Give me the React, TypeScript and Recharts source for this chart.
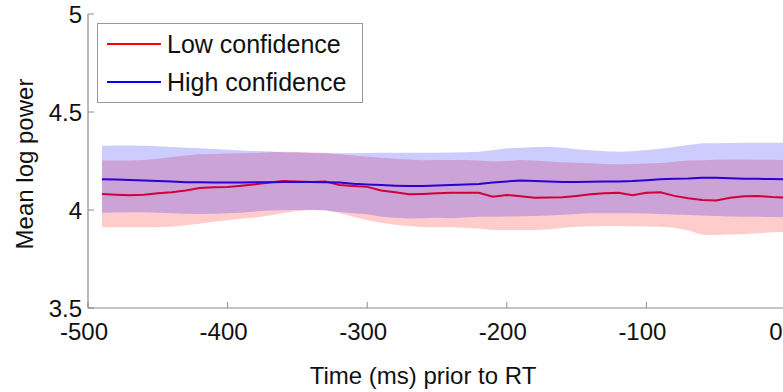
import React from "react";
import { ComposedChart, Line, Area, XAxis, YAxis, Label } from "recharts";

const times = [-490,-480,-470,-460,-450,-440,-430,-420,-410,-400,-390,-380,-370,-360,-350,-340,-330,-320,-310,-300,-290,-280,-270,-260,-250,-240,-230,-220,-210,-200,-190,-180,-170,-160,-150,-140,-130,-120,-110,-100,-90,-80,-70,-60,-50,-40,-30,-20,-10,0];

const lowMean = [4.082,4.078,4.075,4.078,4.085,4.090,4.100,4.112,4.116,4.117,4.124,4.131,4.140,4.148,4.146,4.143,4.146,4.128,4.123,4.118,4.100,4.090,4.080,4.082,4.085,4.088,4.088,4.088,4.068,4.077,4.070,4.063,4.064,4.065,4.072,4.080,4.085,4.088,4.075,4.088,4.090,4.072,4.060,4.051,4.049,4.062,4.070,4.071,4.066,4.063];
const lowUpper = [4.252,4.252,4.253,4.255,4.262,4.270,4.278,4.284,4.286,4.288,4.289,4.291,4.295,4.297,4.296,4.294,4.292,4.284,4.278,4.272,4.266,4.261,4.258,4.254,4.255,4.255,4.255,4.252,4.247,4.250,4.255,4.252,4.248,4.244,4.241,4.238,4.235,4.233,4.235,4.237,4.240,4.246,4.252,4.254,4.256,4.258,4.258,4.257,4.256,4.255];
const lowLower = [3.912,3.912,3.912,3.912,3.912,3.915,3.922,3.930,3.940,3.948,3.955,3.962,3.972,3.985,3.995,4.000,4.000,3.985,3.965,3.948,3.935,3.925,3.918,3.912,3.912,3.912,3.910,3.905,3.898,3.898,3.898,3.898,3.900,3.910,3.915,3.917,3.918,3.918,3.917,3.916,3.915,3.910,3.895,3.874,3.872,3.875,3.878,3.882,3.886,3.890];

const highMean = [4.157,4.155,4.153,4.151,4.148,4.145,4.142,4.141,4.140,4.140,4.140,4.141,4.142,4.143,4.143,4.143,4.142,4.140,4.134,4.130,4.127,4.124,4.122,4.122,4.125,4.127,4.130,4.133,4.140,4.146,4.150,4.148,4.145,4.143,4.143,4.144,4.145,4.146,4.148,4.152,4.157,4.159,4.161,4.165,4.164,4.162,4.160,4.159,4.158,4.157];
const highUpper = [4.328,4.329,4.329,4.328,4.325,4.322,4.318,4.315,4.311,4.307,4.304,4.301,4.298,4.295,4.294,4.291,4.289,4.289,4.290,4.291,4.292,4.292,4.292,4.292,4.292,4.293,4.295,4.297,4.305,4.315,4.318,4.321,4.323,4.318,4.310,4.305,4.300,4.297,4.300,4.306,4.312,4.322,4.332,4.340,4.341,4.342,4.343,4.343,4.343,4.343];
const highLower = [3.986,3.987,3.988,3.988,3.986,3.983,3.981,3.980,3.981,3.983,3.986,3.992,3.997,3.999,4.000,4.000,3.998,3.990,3.983,3.978,3.966,3.961,3.957,3.958,3.960,3.958,3.962,3.965,3.966,3.967,3.968,3.969,3.972,3.976,3.980,3.983,3.983,3.983,3.983,3.982,3.980,3.977,3.974,3.972,3.970,3.967,3.966,3.965,3.964,3.963];

const xTicks = [-500, -400, -300, -200, -100, 0];
const yTicks = [3.5, 4, 4.5, 5];
const seriesNames = ["Low confidence", "High confidence"];
const seriesColors = ["#ff0000", "#0000ff"];
const lineColors = ["#d0003a", "#2a00d6"];

const data = times.map((t, i) => ({
  t,
  lowMean: lowMean[i],
  lowBand: [lowLower[i], lowUpper[i]],
  highMean: highMean[i],
  highBand: [highLower[i], highUpper[i]],
}));

const FONT = '"Liberation Sans", Arial, Helvetica, sans-serif';
const AXIS = "#8c8c8c";

const XTick = (props: any) => {
  const { x, y, payload } = props;
  const lx = Math.min(x - 4, 776);
  return (
    <g>
      <line x1={x} y1={y} x2={x} y2={y - 6} stroke={AXIS} strokeWidth={1} />
      <text x={lx} y={y + 32} textAnchor="middle" fontFamily={FONT} fontSize={24} fill="#111">
        {String(payload.value)}
      </text>
    </g>
  );
};

const YTick = (props: any) => {
  const { x, y, payload } = props;
  return (
    <g>
      <line x1={x} y1={y} x2={x + 6} y2={y} stroke={AXIS} strokeWidth={1} />
      <text x={x - 6} y={y + 8.5} textAnchor="end" fontFamily={FONT} fontSize={24} fill="#111">
        {String(payload.value)}
      </text>
    </g>
  );
};

const XLabel = (props: any) => {
  const vb = props.viewBox || { x: 0, y: 0, width: 0, height: 0 };
  return (
    <text x={vb.x + vb.width / 2 - 14} y={384} textAnchor="middle" fontFamily={FONT} fontSize={24} fill="#111">
      Time (ms) prior to RT
    </text>
  );
};

const YLabel = () => {
  const cx = 24;
  const cy = 164;
  return (
    <text x={cx} y={cy} transform={`rotate(-90, ${cx}, ${cy})`} textAnchor="middle" dominantBaseline="central" fontFamily={FONT} fontSize={24} fill="#111">
      Mean log power
    </text>
  );
};

export default function App() {
  return (
    <div style={{ position: "absolute", left: 0, top: 0, width: 783, height: 392, overflow: "hidden", background: "#fff" }}>
      <ComposedChart width={800} height={392} data={data} margin={{ top: 14, right: 14, bottom: 0, left: 0 }}>
        <XAxis
          dataKey="t"
          type="number"
          domain={[-500, 0]}
          ticks={xTicks}
          height={84}
          tickSize={0}
          tickMargin={0}
          tickLine={false}
          axisLine={{ stroke: AXIS, strokeWidth: 1.2 }}
          tick={<XTick />}
          interval={0}
          allowDataOverflow
        >
          <Label content={<XLabel />} />
        </XAxis>
        <YAxis
          type="number"
          domain={[3.5, 5]}
          ticks={yTicks}
          width={88}
          tickSize={0}
          tickMargin={0}
          tickLine={false}
          axisLine={{ stroke: AXIS, strokeWidth: 1.2 }}
          tick={<YTick />}
          interval={0}
          allowDataOverflow
        >
          <Label content={<YLabel />} />
        </YAxis>
        <Area dataKey="lowBand" fill={seriesColors[0]} fillOpacity={0.2} stroke="none" isAnimationActive={false} activeDot={false} />
        <Area dataKey="highBand" fill={seriesColors[1]} fillOpacity={0.2} stroke="none" isAnimationActive={false} activeDot={false} />
        <Line dataKey="lowMean" stroke={lineColors[0]} strokeWidth={2} dot={false} isAnimationActive={false} />
        <Line dataKey="highMean" stroke={lineColors[1]} strokeWidth={2} dot={false} isAnimationActive={false} />
      </ComposedChart>
      <div
        style={{
          position: "absolute",
          left: 97,
          top: 23,
          width: 266,
          height: 80,
          boxSizing: "border-box",
          border: "1px solid #9a9a9a",
          background: "#fff",
          fontFamily: FONT,
          fontSize: 25,
          color: "#111",
        }}
      >
        {seriesNames.map((name, i) => (
          <div key={name} style={{ position: "absolute", left: 0, top: i === 0 ? 1 : 39, height: 38, display: "flex", alignItems: "center" }}>
            <div style={{ marginLeft: 9, width: 54, height: 2, background: seriesColors[i] }} />
            <span style={{ marginLeft: 6, lineHeight: "38px", whiteSpace: "nowrap" }}>{name}</span>
          </div>
        ))}
      </div>
    </div>
  );
}
